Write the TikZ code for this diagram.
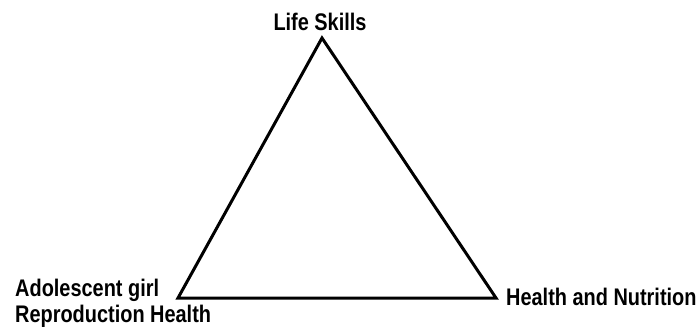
\documentclass[tikz,border=0pt]{standalone}
\usepackage{fontspec}
\setmainfont{Liberation Sans}[FakeStretch=0.83]
\usepackage{tikz}
\usetikzlibrary{positioning}

\tikzset{
  vlabel/.style={inner sep=0pt, font=\bfseries\fontsize{24}{26}\selectfont},
  side/.style={line width=3pt, line join=miter}
}

\begin{document}
\begin{tikzpicture}[x=1pt,y=-1pt]
\useasboundingbox (0,0) rectangle (700,331);

% Corners
  \coordinate (skills)    at (322,38);
  \coordinate (repro)     at (178,298);
  \coordinate (nutrition) at (496,298);

% Labels
  \node[vlabel, above=7pt of skills, xshift=-2pt] (Lskills) {Life Skills};
  \node[vlabel, anchor=south west, align=left]
       (Lrepro) at ([xshift=-163pt,yshift=-30pt]repro) {Adolescent girl\\Reproduction Health};
  \node[vlabel, anchor=base west]
       (Lnutrition) at ([xshift=10pt,yshift=-7pt]nutrition) {Health and Nutrition};

% Sides
  \draw[side] (skills) -- (nutrition) -- (repro) -- cycle;

\end{tikzpicture}
\end{document}
